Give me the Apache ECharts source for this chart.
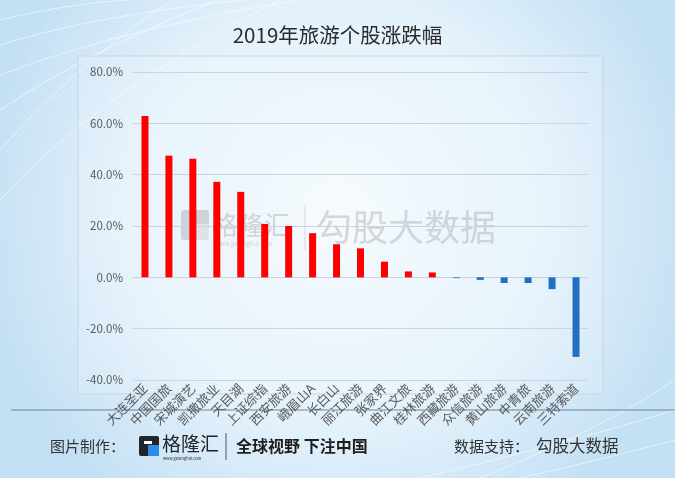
<!DOCTYPE html>
<html>
<head>
<meta charset="utf-8">
<script src="https://cdn.jsdelivr.net/npm/echarts@6/dist/echarts.min.js"></script>
<style>
html,body{margin:0;padding:0;}
#c{width:675px;height:478px;}
</style>
</head>
<body>
<div id="c"></div>
<script>
var titleText = '2019年旅游个股涨跌幅';
var categories = ['大连圣亚','中国国旅','宋城演艺','凯撒旅业','天目湖','上证综指','西安旅游','峨眉山A','长白山','丽江旅游','张家界','曲江文旅','桂林旅游','西藏旅游','众信旅游','黄山旅游','中青旅','云南旅游','三特索道'];
var values = [62.9, 47.4, 46.2, 37.2, 33.3, 20.8, 20.0, 17.2, 12.9, 11.3, 6.1, 2.3, 1.9, -0.3, -1.0, -2.2, -2.2, -4.6, -31.0];
var yTicks = [-40, -20, 0, 20, 40, 60, 80];

var FONT = '"Noto Sans CJK SC", "Noto Sans", sans-serif';
var chart = echarts.init(document.getElementById('c'));

var bgLines = [];
var curves = [
  [[0,20],[120,-10],[260,0]],
  [[0,45],[110,10],[300,-5]],
  [[0,75],[130,25],[330,-5]],
  [[0,110],[90,50],[230,-5]],
  [[0,150],[80,60],[180,-5]],
  [[0,200],[100,90],[290,-5]],
  [[480,478],[600,430],[675,380]],
  [[420,478],[580,440],[675,410]],
  [[520,478],[620,455],[675,440]]
];
curves.forEach(function(c){
  bgLines.push({type:'bezierCurve', silent:true, z:-10,
    shape:{x1:c[0][0],y1:c[0][1],cpx1:c[1][0],cpy1:c[1][1],x2:c[2][0],y2:c[2][1]},
    style:{stroke:'rgba(255,255,255,0.55)', lineWidth:1, fill:null}});
});

var option = {
  backgroundColor: {
    type: 'radial', x: 0.5, y: 0.45, r: 0.75,
    colorStops: [{offset:0, color:'#f4fafe'},{offset:0.6, color:'#e3f1fb'},{offset:1, color:'#c4e0f4'}]
  },
  title: {
    text: titleText, left: 'center', top: 20,
    textStyle: {fontFamily: FONT, fontSize: 20.5, fontWeight: 'normal', color: '#2b2b2b'}
  },
  grid: {left: 133, right: 87, top: 72, bottom: 98, containLabel: false},
  xAxis: {
    type: 'category', data: categories,
    axisTick: {show: false},
    axisLine: {show: true, onZero: true, lineStyle: {color: '#c8d3dc', width: 1}},
    axisLabel: {rotate: 45, interval: 0, margin: 6, color: '#5a5a5a', fontSize: 13, fontFamily: FONT}
  },
  yAxis: {
    type: 'value', min: -40, max: 80, interval: 20,
    axisLine: {show: false}, axisTick: {show: false},
    splitLine: {lineStyle: {color: '#cad4dc', width: 1}},
    axisLabel: {color: '#595959', fontSize: 11.5, fontFamily: FONT, margin: 10,
      formatter: function(v){ return v.toFixed(1) + '%'; }}
  },
  series: [{
    type: 'bar', data: values, barWidth: 7,
    itemStyle: {color: function(p){ return p.value >= 0 ? '#ff0000' : '#1f70c1'; }}
  }],
  graphic: bgLines.concat([
    {type:'rect', silent:true, z:-5, shape:{x:78, y:56, width:525, height:338},
      style:{fill:'rgba(255,255,255,0.15)', stroke:'#c9d6df', lineWidth:1}},
    // watermark
    {type:'group', silent:true, z:50, children:[
      {type:'rect', shape:{x:181, y:210, width:28, height:30, r:3}, style:{fill:'rgba(110,110,110,0.25)'}},
      {type:'rect', shape:{x:194, y:224, width:15, height:16}, style:{fill:'rgba(255,255,255,0.35)'}},
      {type:'text', style:{x:212, y:225, text:'格隆汇', fontFamily:FONT, fontSize:26, fill:'rgba(110,110,110,0.25)', verticalAlign:'middle'}},
      {type:'text', style:{x:215, y:244, text:'www.gelonghui.com', fontFamily:FONT, fontSize:6, fill:'rgba(110,110,110,0.25)', verticalAlign:'middle'}},
      {type:'line', shape:{x1:305, y1:205, x2:305, y2:250}, style:{stroke:'rgba(110,110,110,0.22)', lineWidth:1}},
      {type:'text', style:{x:316, y:227, text:'勾股大数据', fontFamily:FONT, fontSize:36, fill:'rgba(110,110,110,0.25)', verticalAlign:'middle'}}
    ]},
    // footer
    {type:'line', silent:true, shape:{x1:11, y1:410, x2:675, y2:410}, style:{stroke:'#6f8697', lineWidth:1}},
    {type:'text', silent:true, style:{x:50, y:446, text:'图片制作：', fontFamily:FONT, fontSize:15, fill:'#333333', verticalAlign:'middle'}},
    {type:'rect', silent:true, shape:{x:139, y:436, width:20, height:20, r:2}, style:{fill:'#22262b'}},
    {type:'rect', silent:true, shape:{x:148, y:445, width:11, height:11}, style:{fill:'#2a8ee6'}},
    {type:'rect', silent:true, shape:{x:144, y:441, width:8, height:3}, style:{fill:'#ffffff'}},
    {type:'text', silent:true, style:{x:162, y:444, text:'格隆汇', fontFamily:FONT, fontSize:19, fill:'#22262b', verticalAlign:'middle'}},
    {type:'text', silent:true, style:{x:163, y:458, text:'www.gelonghui.com', fontFamily:FONT, fontSize:4, fill:'#22262b', verticalAlign:'middle'}},
    {type:'line', silent:true, shape:{x1:226, y1:433, x2:226, y2:460}, style:{stroke:'#555555', lineWidth:1}},
    {type:'text', silent:true, style:{x:236, y:446, text:'全球视野 下注中国', fontFamily:FONT, fontSize:16, fontWeight:'bold', fill:'#1e1e1e', verticalAlign:'middle'}},
    {type:'text', silent:true, style:{x:454, y:446, text:'数据支持：', fontFamily:FONT, fontSize:15, fill:'#333333', verticalAlign:'middle'}},
    {type:'text', silent:true, style:{x:536, y:446, text:'勾股大数据', fontFamily:FONT, fontSize:16.5, fill:'#333333', verticalAlign:'middle'}}
  ])
};
chart.setOption(option);
</script>
</body>
</html>
